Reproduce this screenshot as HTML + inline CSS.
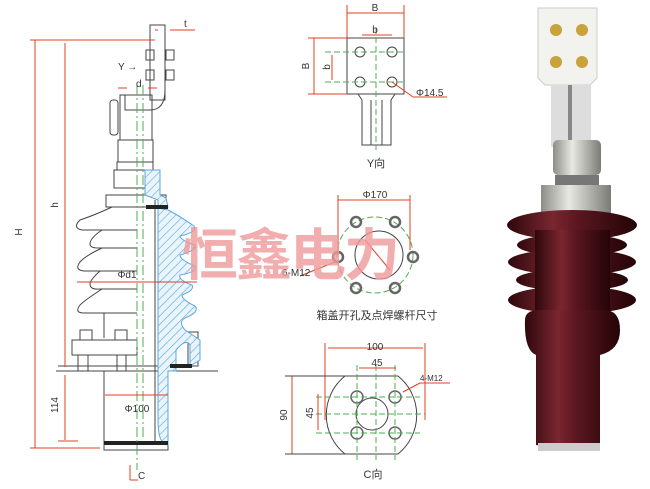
<!DOCTYPE html>
<html><head><meta charset="utf-8"><style>
html,body{margin:0;padding:0;background:#fff;width:650px;height:489px;overflow:hidden}
svg{display:block}
text{font-family:"Liberation Sans","Noto Sans CJK SC",sans-serif;fill:#333}
</style></head><body>
<svg width="650" height="489" viewBox="0 0 650 489" xmlns="http://www.w3.org/2000/svg">
<defs>
<pattern id="h" width="6" height="6" patternUnits="userSpaceOnUse" patternTransform="rotate(45)">
<rect width="6" height="6" fill="#eaf4fb"/><line x1="0" y1="0" x2="0" y2="6" stroke="#5aa8e0" stroke-width="1.2"/></pattern>
<linearGradient id="br" x1="0" x2="1"><stop offset="0" stop-color="#2e080c"/><stop offset=".35" stop-color="#7a2630"/><stop offset=".55" stop-color="#5a1620"/><stop offset="1" stop-color="#240407"/></linearGradient>
<linearGradient id="sv" x1="0" x2="1"><stop offset="0" stop-color="#8d8d88"/><stop offset=".4" stop-color="#e8e8e2"/><stop offset="1" stop-color="#7b7b76"/></linearGradient>
</defs>
<g fill="none" stroke="#444" stroke-width="1">
<rect x="150" y="25" width="15" height="75"/>
<rect x="146" y="50" width="8" height="10"/><rect x="166" y="50" width="8" height="10"/>
<rect x="146" y="70" width="8" height="10"/><rect x="166" y="70" width="8" height="10"/>
<path d="M165 90 Q165 110 150 110 L125 110 L125 95 L150 95"/>
<rect x="120" y="95" width="32" height="45"/>
<rect x="110" y="100" width="8" height="35" rx="3"/>
<rect x="118" y="140" width="35" height="22"/>
<rect x="117" y="162" width="36" height="8"/>
<rect x="114" y="170" width="42" height="18"/>
<rect x="106" y="195" width="60" height="12"/>
<path d="M112 207 Q95 215 80 220 Q72 228 82 230 L137 230"/>
<path d="M102 230 Q90 238 90 244 Q90 248 98 248 L137 248"/>
<path d="M102 248 Q85 256 80 262 Q74 270 84 271 L137 271"/>
<path d="M100 271 Q90 280 90 284 Q90 290 100 289 L137 289"/>
<path d="M102 289 Q85 300 80 305 Q74 313 84 313 L137 313"/>
<line x1="104" y1="313" x2="104" y2="338"/>
<path d="M72 340 L137 340 L137 355 L72 355 Z"/>
<rect x="80" y="330" width="12" height="10"/><rect x="115" y="330" width="12" height="10"/>
<line x1="58" y1="366" x2="170" y2="366"/>
<path d="M56 371 L218 371"/>
<line x1="78" y1="355" x2="78" y2="371"/><line x1="88" y1="355" x2="88" y2="371"/>
<line x1="117" y1="355" x2="117" y2="371"/><line x1="126" y1="355" x2="126" y2="371"/>
<path d="M104 371 L104 450 L168 450 L168 371"/>
<line x1="155" y1="200" x2="155" y2="445"/>
<rect x="188" y="332" width="10" height="34"/>
</g>
<path d="M145 170 L160 170 L160 195 L166 198 L168 207 L158 207 L158 420 Q158 445 168 445 L168 371 L176 371 L176 350 Q186 338 190 345 L190 366 L200 360 L200 340 L185 330 Q178 322 185 318 Q200 312 195 306 Q182 300 182 295 Q195 290 192 285 Q178 280 180 275 Q198 272 195 266 Q180 260 180 255 Q198 250 195 245 Q180 240 180 236 Q198 232 194 226 Q178 215 168 210 L158 208 L158 200 L145 195 Z" fill="url(#h)" stroke="#5aa8e0" stroke-width="1"/>
<rect x="146" y="205" width="22" height="4" fill="#222"/>
<rect x="170" y="364" width="22" height="4" fill="#222"/>
<rect x="104" y="441" width="64" height="4" fill="#222"/>
<line x1="137" y1="85" x2="137" y2="470" stroke="#4caf50" stroke-dasharray="10 3 2 3" stroke-width="1"/>
<line x1="143" y1="85" x2="143" y2="440" stroke="#4caf50" stroke-dasharray="10 3 2 3" stroke-width="1"/>
<g stroke="#e04020" stroke-width="1" fill="#e04020">
<line x1="35" y1="40" x2="35" y2="448"/><line x1="30" y1="40" x2="155" y2="40"/><line x1="30" y1="448" x2="100" y2="448"/>
<line x1="65" y1="43" x2="65" y2="367"/>
<line x1="65" y1="375" x2="65" y2="440"/><line x1="58" y1="441" x2="78" y2="441"/>
<line x1="77" y1="282" x2="197" y2="282"/>
<line x1="105" y1="395" x2="168" y2="395"/>
<line x1="118" y1="88" x2="127" y2="88"/><line x1="148" y1="88" x2="157" y2="88"/>
<line x1="170" y1="30" x2="195" y2="30"/><line x1="155" y1="30" x2="158" y2="30"/>
<line x1="130" y1="465" x2="130" y2="480"/><line x1="130" y1="480" x2="138" y2="480"/>
</g>
<text x="22" y="232" font-size="10" transform="rotate(-90 22 232)" text-anchor="middle">H</text>
<text x="58" y="205" font-size="10" transform="rotate(-90 58 205)" text-anchor="middle">h</text>
<text x="58" y="405" font-size="10" transform="rotate(-90 58 405)" text-anchor="middle">114</text>
<text x="127" y="278" font-size="10" text-anchor="middle">Φd1</text>
<text x="137" y="412" font-size="10" text-anchor="middle">Φ100</text>
<text x="136" y="87" font-size="10">d</text>
<text x="184" y="27" font-size="10">t</text>
<text x="118" y="70" font-size="10">Y →</text>
<text x="138" y="479" font-size="10">C</text>

<g fill="none" stroke="#444">
<rect x="347" y="38" width="57" height="56"/>
<circle cx="360" cy="52" r="5"/><circle cx="392" cy="52" r="5"/><circle cx="360" cy="82" r="5"/><circle cx="392" cy="82" r="5"/>
<path d="M358 94 L362 100 L362 145 L391 145 L391 100 L395 94"/>
<line x1="371" y1="100" x2="371" y2="145"/><line x1="382" y1="100" x2="382" y2="145"/>
</g>
<g stroke="#4caf50" stroke-dasharray="6 3" fill="none"><line x1="376" y1="28" x2="376" y2="150"/><line x1="325" y1="52" x2="405" y2="52"/><line x1="325" y1="82" x2="405" y2="82"/></g>
<g stroke="#e04020"><line x1="347" y1="13" x2="404" y2="13"/><line x1="362" y1="35" x2="392" y2="35"/><line x1="314" y1="38" x2="314" y2="94"/><line x1="332" y1="55" x2="332" y2="80"/><line x1="392" y1="82" x2="413" y2="97"/><line x1="413" y1="97" x2="447" y2="97"/>
<line x1="347" y1="5" x2="347" y2="38"/><line x1="404" y1="5" x2="404" y2="38"/><line x1="308" y1="38" x2="347" y2="38"/><line x1="308" y1="94" x2="347" y2="94"/></g>
<text x="375" y="11" font-size="10" text-anchor="middle">B</text>
<text x="375" y="33" font-size="10" text-anchor="middle">b</text>
<text x="309" y="66" font-size="10" transform="rotate(-90 309 66)" text-anchor="middle">B</text>
<text x="330" y="67" font-size="10" transform="rotate(-90 330 67)" text-anchor="middle">b</text>
<text x="416" y="96" font-size="10">Φ14.5</text>
<text x="376" y="167" font-size="11" text-anchor="middle">Y向</text>

<circle cx="375" cy="255" r="38" fill="none" stroke="#4caf50" stroke-dasharray="6 3"/>
<circle cx="379" cy="255" r="24" fill="none" stroke="#444"/>
<g fill="none" stroke="#666" stroke-width="2.5">
<circle cx="356" cy="222" r="5"/><circle cx="395" cy="222" r="5"/><circle cx="338" cy="257" r="5"/><circle cx="413" cy="257" r="5"/><circle cx="356" cy="288" r="5"/><circle cx="395" cy="288" r="5"/></g>
<g stroke="#e04020"><line x1="338" y1="200" x2="410" y2="200"/><line x1="338" y1="195" x2="338" y2="255"/><line x1="410" y1="195" x2="410" y2="250"/><line x1="365" y1="240" x2="390" y2="270"/><line x1="300" y1="276" x2="335" y2="262"/></g>
<text x="375" y="198" font-size="10" text-anchor="middle">Φ170</text>
<text x="282" y="276" font-size="10">6-M12</text>
<text x="377" y="319" font-size="11" text-anchor="middle">箱盖开孔及点焊螺杆尺寸</text>

<path d="M345 376 L398 376 A50 50 0 0 1 398 454 L345 454 A50 50 0 0 1 345 376 Z" fill="none" stroke="#444"/>
<circle cx="372" cy="414" r="16" fill="none" stroke="#444"/>
<g fill="none" stroke="#666" stroke-width="1.5"><circle cx="357" cy="397" r="6"/><circle cx="395" cy="397" r="6"/><circle cx="357" cy="433" r="6"/><circle cx="395" cy="433" r="6"/></g>
<g stroke="#4caf50" stroke-dasharray="6 3"><line x1="316" y1="397" x2="420" y2="397"/><line x1="316" y1="433" x2="420" y2="433"/><line x1="316" y1="414" x2="425" y2="414"/><line x1="357" y1="365" x2="357" y2="460"/><line x1="395" y1="365" x2="395" y2="460"/><line x1="376" y1="365" x2="376" y2="460"/></g>
<g stroke="#e04020"><line x1="328" y1="348" x2="423" y2="348"/><line x1="325" y1="343" x2="325" y2="420"/><line x1="425" y1="343" x2="425" y2="420"/><line x1="359" y1="368" x2="396" y2="368"/><line x1="292" y1="376" x2="292" y2="454"/><line x1="318" y1="394" x2="318" y2="430"/><line x1="403" y1="392" x2="420" y2="383"/><line x1="420" y1="383" x2="450" y2="383"/></g>
<g stroke="#444"><line x1="285" y1="376" x2="345" y2="376"/><line x1="285" y1="454" x2="345" y2="454"/></g>
<text x="375" y="350" font-size="10" text-anchor="middle">100</text>
<text x="377" y="366" font-size="10" text-anchor="middle">45</text>
<text x="287" y="415" font-size="10" transform="rotate(-90 287 415)" text-anchor="middle">90</text>
<text x="313" y="413" font-size="10" transform="rotate(-90 313 413)" text-anchor="middle">45</text>
<text x="420" y="381" font-size="8">4-M12</text>
<text x="373" y="478" font-size="11" text-anchor="middle">C向</text>

<text x="290" y="275" font-size="56" font-weight="bold" text-anchor="middle" style="fill:#f09a9a;opacity:.8;font-family:'Noto Sans CJK SC',sans-serif" letter-spacing="-2">恒鑫电力</text>

<path d="M538 8 L597 8 L597 78 L590 85 L545 85 L538 78 Z" fill="#f2f2ee" stroke="#ccc"/>
<g fill="#c9a23a"><circle cx="556" cy="30" r="6"/><circle cx="582" cy="30" r="6"/><circle cx="556" cy="62" r="6"/><circle cx="582" cy="62" r="6"/></g>
<rect x="551" y="85" width="40" height="62" fill="#ddd"/>
<rect x="568" y="85" width="4" height="62" fill="#888"/>
<rect x="553" y="140" width="48" height="35" rx="5" fill="url(#sv)"/>
<rect x="555" y="175" width="44" height="10" fill="#777"/>
<rect x="541" y="185" width="70" height="30" fill="url(#sv)"/>
<g fill="url(#br)">
<ellipse cx="572" cy="225" rx="65" ry="15"/>
<ellipse cx="572" cy="245" rx="55" ry="11"/>
<ellipse cx="572" cy="262" rx="64" ry="13"/>
<ellipse cx="572" cy="280" rx="56" ry="11"/>
<ellipse cx="572" cy="300" rx="64" ry="14"/>
<rect x="535" y="230" width="75" height="90"/>
<path d="M525 320 Q525 310 540 310 L604 310 Q620 310 620 330 Q620 350 600 355 L600 445 Q572 452 536 445 L536 355 Q524 350 525 320 Z"/>
</g>
<rect x="538" y="443" width="62" height="8" fill="#ccc"/>
</svg>
</body></html>
